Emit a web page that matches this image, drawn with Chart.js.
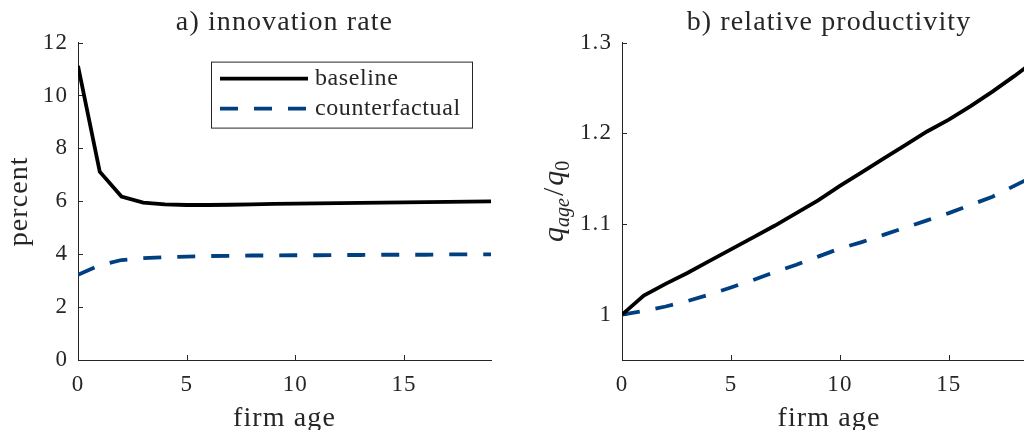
<!DOCTYPE html>
<html><head><meta charset="utf-8">
<script src="https://cdn.jsdelivr.net/npm/chart.js@4.4.1/dist/chart.umd.min.js"></script>
<style>
html,body{margin:0;padding:0;background:#fff;overflow:hidden;width:1024px;height:430px}
#ca{position:absolute;left:0;top:0}
#cb{position:absolute;left:512px;top:0}
</style></head><body>
<canvas id="ca" width="512" height="430"></canvas>
<canvas id="cb" width="540" height="430"></canvas>
<script>
// ---- data ----
const ages = [0,1,2,3,4,5,6,7,8,9,10,11,12,13,14,15,16,17,18,19];
const innovBaseline = [11.12,7.12,6.18,5.95,5.88,5.86,5.86,5.87,5.88,5.90,5.91,5.92,5.93,5.94,5.95,5.96,5.97,5.98,5.99,6.00];
const innovCounter  = [3.22,3.58,3.78,3.85,3.89,3.91,3.93,3.94,3.95,3.95,3.96,3.96,3.97,3.97,3.98,3.98,3.98,3.99,3.99,3.99];
const prodBaseline  = [1.000,1.021,1.034,1.046,1.059,1.072,1.085,1.098,1.112,1.126,1.142,1.157,1.172,1.187,1.202,1.215,1.230,1.246,1.263,1.281];
const prodCounter   = [1.000,1.004,1.009,1.015,1.022,1.030,1.038,1.047,1.055,1.064,1.073,1.080,1.088,1.096,1.104,1.112,1.121,1.130,1.142,1.154];
const seriesNames = ['baseline','counterfactual'];
const titleA = 'a) innovation rate';
const titleB = 'b) relative productivity';
const xLabel = 'firm age';
const yLabelA = 'percent';
const xTicks = [0,5,10,15];
const yTicksA = [0,2,4,6,8,10,12];
const yTicksB = [1,1.1,1.2,1.3];

// ---- style ----
const SERIF = "'Liberation Serif', 'Times New Roman', serif";
const TXT = '#262626';
const BLUE = '#003f80';
const DASH = [18,16];
const SPACING = '1.1px';

function pts(vals){ return ages.map((a,i)=>({x:a,y:vals[i]})); }

const spacing = {
  id:'spacing',
  beforeLayout(chart){ chart.ctx.letterSpacing = SPACING; },
  beforeDraw(chart){ chart.ctx.letterSpacing = SPACING; }
};

const inwardTicks = {
  id:'inwardTicks',
  beforeDatasetsDraw(chart){
    const {ctx, chartArea:ca, scales:{x,y}} = chart;
    ctx.save();
    ctx.strokeStyle = TXT; ctx.lineWidth = 1;
    ctx.beginPath();
    x.ticks.forEach(t=>{ const px=Math.round(x.getPixelForValue(t.value))+0.5; ctx.moveTo(px,ca.bottom); ctx.lineTo(px,ca.bottom-5); });
    y.ticks.forEach(t=>{ const py=Math.round(y.getPixelForValue(t.value))+0.5; ctx.moveTo(ca.left,py); ctx.lineTo(ca.left+5,py); });
    ctx.stroke();
    ctx.restore();
  }
};

const legendBox = {
  id:'legendBox',
  afterDraw(chart){
    const {ctx, chartArea:ca} = chart;
    const bx = ca.left+133, by = ca.top+19, bw = 261, bh = 66;
    ctx.save();
    ctx.letterSpacing = '0.6px';
    ctx.fillStyle='#fff'; ctx.fillRect(bx,by,bw,bh);
    ctx.strokeStyle=TXT; ctx.lineWidth=1; ctx.strokeRect(bx+0.5,by+0.5,bw,bh);
    const ds = chart.data.datasets;
    const rows=[by+17, by+47];
    ds.forEach((d,i)=>{
      ctx.beginPath();
      ctx.strokeStyle=d.borderColor; ctx.lineWidth=d.borderWidth;
      ctx.setLineDash(d.borderDash||[]);
      ctx.moveTo(bx+9,rows[i]); ctx.lineTo(bx+97,rows[i]); ctx.stroke();
      ctx.setLineDash([]);
      ctx.fillStyle=TXT; ctx.font="24px "+SERIF; ctx.textBaseline='middle'; ctx.textAlign='left';
      ctx.fillText(d.label,bx+104,rows[i]);
    });
    ctx.restore();
  }
};

const mathYLabel = {
  id:'mathYLabel',
  afterDraw(chart){
    const {ctx, chartArea:ca} = chart;
    const cx = 47, cy = (ca.top+ca.bottom)/2;
    const big = "italic 30px "+SERIF, small = "italic 20px "+SERIF, smallUp = "20px "+SERIF, mid = "30px "+SERIF;
    const parts = [
      {t:'q',f:big,dy:0},{t:'age',f:small,dy:6},{t:'/',f:mid,dy:0,pad:2},{t:'q',f:big,dy:0},{t:'0',f:smallUp,dy:6}
    ];
    ctx.save();
    ctx.letterSpacing = '0px';
    let total=0;
    parts.forEach(p=>{ctx.font=p.f; p.w=ctx.measureText(p.t).width+(p.pad?2*p.pad:0); total+=p.w;});
    ctx.translate(cx,cy); ctx.rotate(-Math.PI/2);
    ctx.fillStyle=TXT; ctx.textBaseline='alphabetic'; ctx.textAlign='left';
    let xx=-total/2;
    parts.forEach(p=>{ctx.font=p.f; ctx.fillText(p.t,xx+(p.pad||0),4+p.dy); xx+=p.w;});
    ctx.restore();
  }
};

function makeChart(id, title, base, counter, yMin, yMax, yTicks, yWidth, padRight, yTitle, extraPlugins){
  return new Chart(document.getElementById(id), {
    type:'line',
    data:{datasets:[
      {label:seriesNames[0], data:pts(base), borderColor:'#000', borderWidth:3.8, pointRadius:0, tension:0, fill:false},
      {label:seriesNames[1], data:pts(counter), borderColor:BLUE, borderWidth:3.8, borderDash:DASH, pointRadius:0, tension:0, fill:false}
    ]},
    options:{
      responsive:false, animation:false, devicePixelRatio:1,
      layout:{padding:{left:0,right:padRight,top:0,bottom:0}},
      plugins:{
        legend:{display:false}, tooltip:{enabled:false},
        title:{display:true, text:title, fullSize:false, color:TXT, font:{family:SERIF,size:28,weight:'normal',lineHeight:1.2}, padding:{top:6,bottom:3}}
      },
      scales:{
        x:{type:'linear', min:0, max:19,
          grid:{display:false, drawTicks:false},
          border:{display:true, color:TXT, width:1},
          afterBuildTicks(s){ s.ticks = xTicks.map(v=>({value:v})); },
          ticks:{color:TXT, font:{family:SERIF,size:23}, padding:11, maxRotation:0, callback:v=>String(v)},
          title:{display:true, text:xLabel, color:TXT, font:{family:SERIF,size:28,lineHeight:1}, padding:{top:0,bottom:-3}},
          afterFit(s){ s.height=70; s.paddingLeft=0; s.paddingRight=0; }
        },
        y:{type:'linear', min:yMin, max:yMax,
          grid:{display:false, drawTicks:false},
          border:{display:true, color:TXT, width:1},
          afterBuildTicks(s){ s.ticks = yTicks.map(v=>({value:v})); },
          ticks:{color:TXT, font:{family:SERIF,size:23}, padding:10, callback:v=>(Number.isInteger(v)?String(v):v.toFixed(1))},
          title: yTitle ? {display:true, text:yTitle, color:TXT, font:{family:SERIF,size:28,lineHeight:1}, padding:{top:6,bottom:0}} : {display:false},
          afterFit(s){ s.width=yWidth; s.paddingTop=0; s.paddingBottom=0; }
        }
      }
    },
    plugins:[spacing, inwardTicks].concat(extraPlugins)
  });
}

makeChart('ca', titleA, innovBaseline, innovCounter, 0, 12, yTicksA, 78, 21, yLabelA, [legendBox]);
makeChart('cb', titleB, prodBaseline, prodCounter, 0.95, 1.3, yTicksB, 110, 16, null, [mathYLabel]);
</script>
</body></html>
